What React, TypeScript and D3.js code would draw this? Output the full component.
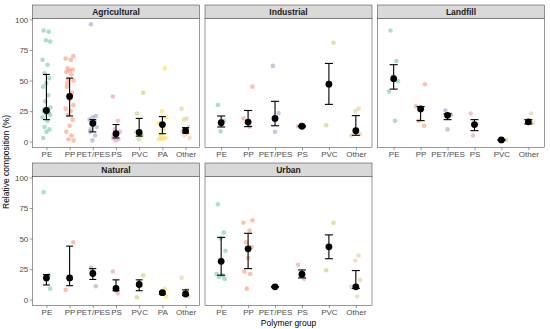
import React, { useRef, useEffect } from 'react';
import * as d3 from 'd3';

const polymers = ['PE', 'PP', 'PET/PES', 'PS', 'PVC', 'PA', 'Other'];
const polymerColors = ['#66C2A5', '#FC8D62', '#8DA0CB', '#E78AC3', '#A6D854', '#FFD92F', '#E5C494'];
const yTicks = [0, 25, 50, 75, 100];

// [polymer, value]
const agriculturalPoints: [string, number][] = [
  ['PE', 91], ['PE', 90], ['PE', 83], ['PE', 82], ['PE', 67], ['PE', 63], ['PE', 56], ['PE', 52],
  ['PE', 48], ['PE', 45], ['PE', 38], ['PE', 33], ['PE', 28], ['PE', 26], ['PE', 25], ['PE', 24],
  ['PE', 23], ['PE', 22], ['PE', 20], ['PE', 17], ['PE', 12], ['PE', 10], ['PE', 8], ['PE', 3],
  ['PP', 70], ['PP', 68], ['PP', 67], ['PP', 60], ['PP', 59], ['PP', 58], ['PP', 57], ['PP', 55],
  ['PP', 51], ['PP', 50], ['PP', 48], ['PP', 45], ['PP', 40], ['PP', 35], ['PP', 30], ['PP', 27],
  ['PP', 25], ['PP', 22], ['PP', 18], ['PP', 13], ['PP', 8], ['PP', 5], ['PP', 2], ['PP', 1],
  ['PET/PES', 96], ['PET/PES', 21], ['PET/PES', 20], ['PET/PES', 18], ['PET/PES', 16], ['PET/PES', 14],
  ['PET/PES', 12], ['PET/PES', 10], ['PET/PES', 8], ['PET/PES', 5], ['PET/PES', 1],
  ['PS', 37], ['PS', 17], ['PS', 10], ['PS', 8], ['PS', 5], ['PS', 3], ['PS', 2], ['PS', 1],
  ['PVC', 40], ['PVC', 23], ['PVC', 8], ['PVC', 5], ['PVC', 2],
  ['PA', 60], ['PA', 25], ['PA', 20], ['PA', 15], ['PA', 10], ['PA', 5], ['PA', 3], ['PA', 2.5], ['PA', 2],
  ['Other', 27], ['Other', 19], ['Other', 18], ['Other', 12], ['Other', 10], ['Other', 8], ['Other', 7],
  ['Other', 5], ['Other', 3],
];
const industrialPoints: [string, number][] = [
  ['PE', 30], ['PE', 17], ['PE', 8.5],
  ['PP', 45], ['PP', 19], ['PP', 12.3],
  ['PET/PES', 62], ['PET/PES', 23.5], ['PET/PES', 8],
  ['PS', 12.5], ['PS', 12.8],
  ['PVC', 81], ['PVC', 13.4],
  ['Other', 27], ['Other', 25], ['Other', 6], ['Other', 5],
];
const landfillPoints: [string, number][] = [
  ['PE', 91], ['PE', 66], ['PE', 53.5], ['PE', 49.5], ['PE', 41], ['PE', 17],
  ['PP', 47], ['PP', 29], ['PP', 27.5], ['PP', 17], ['PP', 13],
  ['PET/PES', 25.5], ['PET/PES', 22], ['PET/PES', 10],
  ['PS', 23], ['PS', 14], ['PS', 5],
  ['PVC', 1.4],
  ['Other', 23], ['Other', 17], ['Other', 15.5],
];
const naturalPoints: [string, number][] = [
  ['PE', 88], ['PE', 20], ['PE', 18], ['PE', 9],
  ['PP', 47], ['PP', 8],
  ['PET/PES', 26], ['PET/PES', 11],
  ['PS', 23], ['PS', 5],
  ['PVC', 20], ['PVC', 2],
  ['PA', 9], ['PA', 6], ['PA', 2.5],
  ['Other', 18], ['Other', 8], ['Other', 5], ['Other', 2.5],
];
const urbanPoints: [string, number][] = [
  ['PE', 78], ['PE', 55], ['PE', 50], ['PE', 40], ['PE', 21], ['PE', 20], ['PE', 18.5], ['PE', 17],
  ['PP', 65], ['PP', 63], ['PP', 56.5], ['PP', 47], ['PP', 43], ['PP', 34], ['PP', 23], ['PP', 21], ['PP', 9],
  ['PET/PES', 10.5],
  ['PS', 28.5], ['PS', 17], ['PS', 20],
  ['PVC', 63], ['PVC', 24],
  ['Other', 36], ['Other', 32], ['Other', 16], ['Other', 10.5], ['Other', 2.5],
];

// [polymer, centre, lower, upper]
const agriculturalSummary: [string, number, number, number][] = [
  ['PE', 25.5, 18, 55], ['PP', 37, 21, 52], ['PET/PES', 15, 8, 18], ['PS', 6.5, 3, 14],
  ['PVC', 7.5, 4.5, 19], ['PA', 14, 6.5, 20.5], ['Other', 9, 7, 11.5],
];
const industrialSummary: [string, number, number, number][] = [
  ['PE', 15.5, 12, 21], ['PP', 16, 12.3, 25.5], ['PET/PES', 19, 13, 33], ['PS', 12.6, 12.2, 13],
  ['PVC', 47, 30.5, 64], ['Other', 9, 5.2, 21.3],
];
const landfillSummary: [string, number, number, number][] = [
  ['PE', 51.5, 43, 63], ['PP', 26.8, 17.2, 28.7], ['PET/PES', 21.5, 18, 22.7], ['PS', 14, 9, 18],
  ['PVC', 1.4, 1.2, 1.6], ['Other', 16.2, 14.5, 18],
];
const naturalSummary: [string, number, number, number][] = [
  ['PE', 17.8, 12, 20.5], ['PP', 17.8, 11.4, 43.8], ['PET/PES', 21.4, 16.5, 25.4], ['PS', 9.2, 7.3, 16.2],
  ['PVC', 12.4, 7.3, 16.2], ['PA', 5.7, 4.4, 6.5], ['Other', 4.6, 3.4, 8],
];
const urbanSummary: [string, number, number, number][] = [
  ['PE', 31.4, 20, 51], ['PP', 41.6, 25.4, 54.3], ['PET/PES', 10.5, 10.3, 10.7], ['PS', 20.8, 17.8, 24.3],
  ['PVC', 43.2, 33.5, 53], ['Other', 10.5, 9.2, 23.8],
];

const facets = [
  { name: 'Agricultural', points: agriculturalPoints, summary: agriculturalSummary, row: 0, col: 0 },
  { name: 'Industrial', points: industrialPoints, summary: industrialSummary, row: 0, col: 1 },
  { name: 'Landfill', points: landfillPoints, summary: landfillSummary, row: 0, col: 2 },
  { name: 'Natural', points: naturalPoints, summary: naturalSummary, row: 1, col: 0 },
  { name: 'Urban', points: urbanPoints, summary: urbanSummary, row: 1, col: 1 },
];

// horizontal jitter pattern (fraction of a category step), reused cyclically
const jitterPattern = [-0.12, 0.1, -0.02, 0.16, -0.17, 0.05, -0.08, 0.13, 0.0, -0.14, 0.08, -0.05, 0.17, -0.1];

function App() {
  const ref = useRef<SVGSVGElement>(null);

  useEffect(() => {
    const svg = d3.select(ref.current);
    svg.selectAll('*').remove();

    const width = 550;
    const font = '"Liberation Sans", Arial, sans-serif';
    const panelLeft = 32.5;
    const panelW = 167;
    const gapX = 5.5;
    const stripH = 13.5;
    const rowTop = [5, 163];
    const panelH = 129;

    const allVals = facets.flatMap(f => f.points.map(p => p[1]));
    const yMax = d3.max(allVals) as number;
    const yMin = 0;
    const pad = (yMax - yMin) * 0.05;

    const color = d3.scaleOrdinal<string, string>().domain(polymers).range(polymerColors);

    facets.forEach(f => {
      const x0 = panelLeft + f.col * (panelW + gapX);
      const stripTop = rowTop[f.row];
      const pTop = stripTop + stripH;
      const pBottom = pTop + panelH;

      const cats = polymers.filter(p => f.points.some(d => d[0] === p));
      const x = d3.scalePoint<string>().domain(cats).range([x0, x0 + panelW]).padding(0.6);
      const step = x.step();
      const y = d3.scaleLinear().domain([yMin - pad, yMax + pad]).range([pBottom, pTop]);

      const g = svg.append('g');

      // strip
      g.append('rect')
        .attr('x', x0).attr('y', stripTop).attr('width', panelW).attr('height', stripH)
        .attr('fill', '#D9D9D9').attr('stroke', '#333').attr('stroke-width', 0.5);
      g.append('text')
        .attr('x', x0 + panelW / 2).attr('y', stripTop + stripH / 2 + 3)
        .attr('text-anchor', 'middle').attr('font-family', font).attr('font-size', 8.5)
        .attr('font-weight', 'bold').attr('fill', '#1A1A1A').text(f.name);

      g.append('rect')
        .attr('x', x0).attr('y', pTop).attr('width', panelW).attr('height', panelH)
        .attr('fill', 'white');

      // x axis
      const xAxis = d3.axisBottom(x).tickSize(2.7).tickPadding(1.5);
      const xa = g.append('g').attr('transform', `translate(0,${pBottom})`).call(xAxis);
      xa.select('.domain').remove();
      xa.selectAll('line').attr('stroke', '#333').attr('stroke-width', 0.5);
      xa.selectAll('text').attr('font-family', font).attr('font-size', 8).attr('fill', '#4D4D4D');

      if (f.col === 0) {
        const yAxis = d3.axisLeft(y).tickValues(yTicks).tickSize(2.7).tickPadding(1.5);
        const ya = g.append('g').attr('transform', `translate(${x0},0)`).call(yAxis);
        ya.select('.domain').remove();
        ya.selectAll('line').attr('stroke', '#333').attr('stroke-width', 0.5);
        ya.selectAll('text').attr('font-family', font).attr('font-size', 8).attr('fill', '#4D4D4D');
      }

      // jittered raw points
      const counters: Record<string, number> = {};
      g.append('g').selectAll('circle')
        .data(f.points)
        .join('circle')
        .attr('cx', d => {
          const k = counters[d[0]] ?? 0;
          counters[d[0]] = k + 1;
          const j = jitterPattern[(k + cats.indexOf(d[0]) * 3) % jitterPattern.length];
          return (x(d[0]) as number) + j * step;
        })
        .attr('cy', d => y(d[1]))
        .attr('r', 2.3)
        .attr('fill', d => color(d[0]))
        .attr('fill-opacity', 0.55);

      // error bars
      const cap = step * 0.15;
      const eb = g.append('g').selectAll('g').data(f.summary).join('g');
      eb.append('line')
        .attr('x1', d => x(d[0]) as number).attr('x2', d => x(d[0]) as number)
        .attr('y1', d => y(d[2])).attr('y2', d => y(d[3]))
        .attr('stroke', 'black').attr('stroke-width', 1.1);
      eb.append('line')
        .attr('x1', d => (x(d[0]) as number) - cap).attr('x2', d => (x(d[0]) as number) + cap)
        .attr('y1', d => y(d[2])).attr('y2', d => y(d[2]))
        .attr('stroke', 'black').attr('stroke-width', 1.1);
      eb.append('line')
        .attr('x1', d => (x(d[0]) as number) - cap).attr('x2', d => (x(d[0]) as number) + cap)
        .attr('y1', d => y(d[3])).attr('y2', d => y(d[3]))
        .attr('stroke', 'black').attr('stroke-width', 1.1);
      eb.append('circle')
        .attr('cx', d => x(d[0]) as number).attr('cy', d => y(d[1]))
        .attr('r', 3.4).attr('fill', 'black');

      // panel border
      g.append('rect')
        .attr('x', x0).attr('y', pTop).attr('width', panelW).attr('height', panelH)
        .attr('fill', 'none').attr('stroke', '#333').attr('stroke-width', 0.5);
    });

    const bottomOfPanels = rowTop[1] + stripH + panelH;
    svg.append('text')
      .attr('x', panelLeft + (3 * panelW + 2 * gapX) / 2).attr('y', bottomOfPanels + 20)
      .attr('text-anchor', 'middle').attr('font-family', font).attr('font-size', 8.5)
      .attr('fill', 'black').text('Polymer group');

    svg.append('text')
      .attr('transform', `translate(9,${(rowTop[0] + stripH + bottomOfPanels) / 2}) rotate(-90)`)
      .attr('text-anchor', 'middle').attr('font-family', font).attr('font-size', 8.5)
      .attr('fill', 'black').text('Relative composition (%)');

    svg.attr('width', width);
  }, []);

  return (
    <svg ref={ref} width="550" height="329"
      style={{ position: 'absolute', left: 0, top: 0, background: 'white' }}></svg>
  );
}

export default App;
